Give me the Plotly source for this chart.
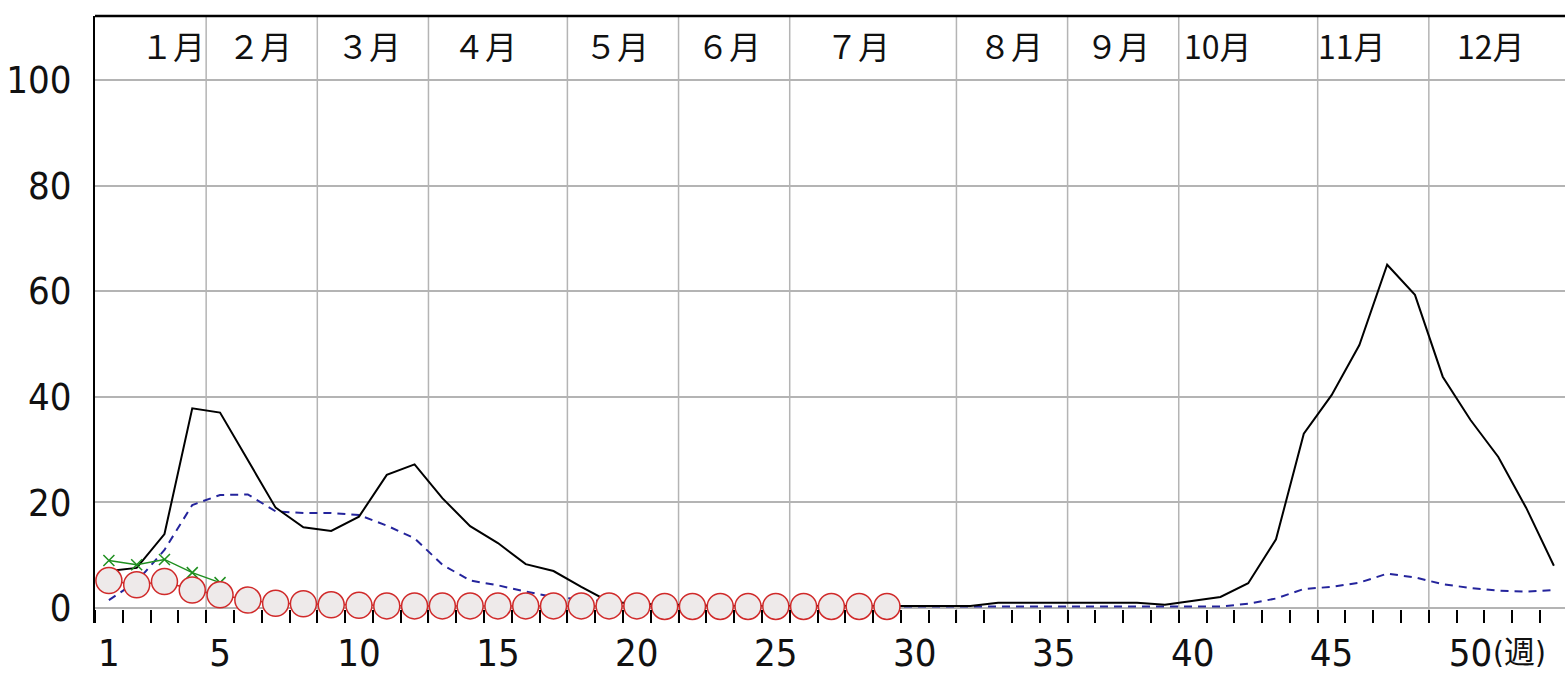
import plotly.graph_objects as go

# ---------------- data ----------------
weeks = list(range(1, 54))

black_line = [7.0, 7.6, 14.0, 37.8, 37.0, 28.0, 19.0, 15.3, 14.6, 17.3,
              25.2, 27.2, 20.8, 15.5, 12.3, 8.3, 7.0, 4.0, 1.2, 0.8,
              0.6, 0.5, 0.4, 0.4, 0.3, 0.3, 0.3, 0.3, 0.3, 0.4,
              0.4, 0.4, 1.0, 1.0, 1.0, 1.0, 1.0, 1.0, 0.6, 1.4,
              2.1, 4.7, 13.0, 33.0, 40.3, 49.8, 65.0, 59.3, 43.8, 35.6,
              28.6, 19.0, 8.0]

blue_dashed = [1.5, 5.0, 11.0, 19.5, 21.4, 21.5, 18.3, 18.0, 18.0, 17.6,
               15.6, 13.2, 8.2, 5.2, 4.3, 3.1, 2.1, 1.6, 1.2, 1.0,
               0.8, 0.7, 0.6, 0.5, 0.5, 0.4, 0.4, 0.3, 0.3, 0.3,
               0.3, 0.3, 0.3, 0.3, 0.3, 0.3, 0.3, 0.3, 0.3, 0.3,
               0.3, 0.8, 1.8, 3.6, 4.0, 4.8, 6.5, 5.8, 4.5, 3.8,
               3.3, 3.1, 3.4]

green_weeks = [1, 2, 3, 4, 5]
green_x = [9.0, 8.2, 9.2, 6.7, 4.8]

red_weeks = list(range(1, 30))
red_circles = [5.2, 4.4, 5.0, 3.4, 2.5, 1.5, 0.9, 0.8, 0.6, 0.5,
               0.4, 0.4, 0.4, 0.4, 0.4, 0.4, 0.4, 0.4, 0.4, 0.4,
               0.3, 0.3, 0.3, 0.3, 0.3, 0.3, 0.3, 0.3, 0.3]

x_tick_vals = [1, 5, 10, 15, 20, 25, 30, 35, 40, 45, 50]
x_tick_text = ["1", "5", "10", "15", "20", "25", "30", "35", "40", "45", "50"]
y_tick_vals = [0, 20, 40, 60, 80, 100]
y_tick_text = ["0", "20", "40", "60", "80", "100"]

month_labels = ["１月", "２月", "３月", "４月", "５月", "６月",
                "７月", "８月", "９月", "10月", "11月", "12月"]
month_label_weeks = [3.3, 6.45, 10.35, 14.55, 19.3, 23.3,
                     27.95, 33.45, 37.3, 40.9, 45.75, 50.75]
month_boundary_weeks = [4.5, 8.5, 12.5, 17.5, 21.5, 25.5,
                        31.5, 35.5, 39.5, 44.5, 48.5]

NUM_FONT = "Liberation Sans Narrow, DejaVu Sans Condensed, Liberation Sans, Arial"
JP_FONT = "Noto Sans CJK JP, Noto Sans, sans-serif"

fig = go.Figure()

fig.add_trace(go.Scatter(
    x=weeks, y=blue_dashed, mode="lines",
    line=dict(color="#24249c", width=2, dash="8px,6px"),
    showlegend=False, hoverinfo="skip"))

fig.add_trace(go.Scatter(
    x=weeks, y=black_line, mode="lines",
    line=dict(color="#000000", width=2),
    showlegend=False, hoverinfo="skip"))

fig.add_trace(go.Scatter(
    x=green_weeks, y=green_x, mode="lines+markers",
    line=dict(color="#1f8f1f", width=1.5),
    marker=dict(symbol="x-thin", size=11, line=dict(color="#1f8f1f", width=1.5)),
    showlegend=False, hoverinfo="skip"))

fig.add_trace(go.Scatter(
    x=red_weeks, y=red_circles, mode="lines+markers",
    line=dict(color="#d02a2a", width=1.5),
    marker=dict(symbol="circle", size=26, color="#eeeaea",
                line=dict(color="#d02a2a", width=1.5)),
    showlegend=False, hoverinfo="skip"))

shapes = []
for b in month_boundary_weeks:
    shapes.append(dict(type="line", xref="x", yref="paper", x0=b, x1=b, y0=0, y1=1,
                       line=dict(color="#b4b4b4", width=1.5), layer="below"))
# top border
shapes.append(dict(type="line", xref="paper", yref="paper", x0=0, x1=1, y0=1, y1=1,
                   line=dict(color="#000000", width=2.5)))

annotations = []
for lab, xw in zip(month_labels, month_label_weeks):
    annotations.append(dict(x=xw, y=106.6, xref="x", yref="y", text=lab,
                            showarrow=False, xanchor="center", yanchor="middle",
                            font=dict(family=JP_FONT, size=32, color="#111111")))
annotations.append(dict(x=50.72, y=-0.047, xref="x", yref="paper", text="(週)",
                        showarrow=False, xanchor="left", yanchor="middle",
                        font=dict(family=NUM_FONT + ", " + JP_FONT, size=31, color="#111111")))

fig.update_layout(
    width=1565, height=674, autosize=False,
    margin=dict(l=95, r=0, t=16, b=51, pad=0),
    paper_bgcolor="white", plot_bgcolor="white",
    shapes=shapes, annotations=annotations,
    xaxis=dict(range=[0.5, 53.4], tickmode="array", tickvals=x_tick_vals,
               ticktext=x_tick_text, ticks="", showgrid=False, zeroline=False,
               showline=False, ticklabelstandoff=4, automargin=False,
               tickfont=dict(family=NUM_FONT, size=38, color="#111111"),
               minor=dict(tick0=0.5, dtick=1, ticks="inside", ticklen=13,
                          tickwidth=2, tickcolor="#000000", showgrid=False)),
    yaxis=dict(range=[-2.84, 112.1], tickmode="array", tickvals=y_tick_vals,
               ticktext=y_tick_text, ticks="", showgrid=True,
               gridcolor="#b4b4b4", gridwidth=1.5, zeroline=False,
               showline=True, linecolor="#000000", linewidth=2,
               ticklabelstandoff=14, automargin=False,
               tickfont=dict(family=NUM_FONT, size=38, color="#111111")),
)

fig.write_html("out.html", config={"displayModeBar": False},
               post_script="document.body.style.margin='0';")
